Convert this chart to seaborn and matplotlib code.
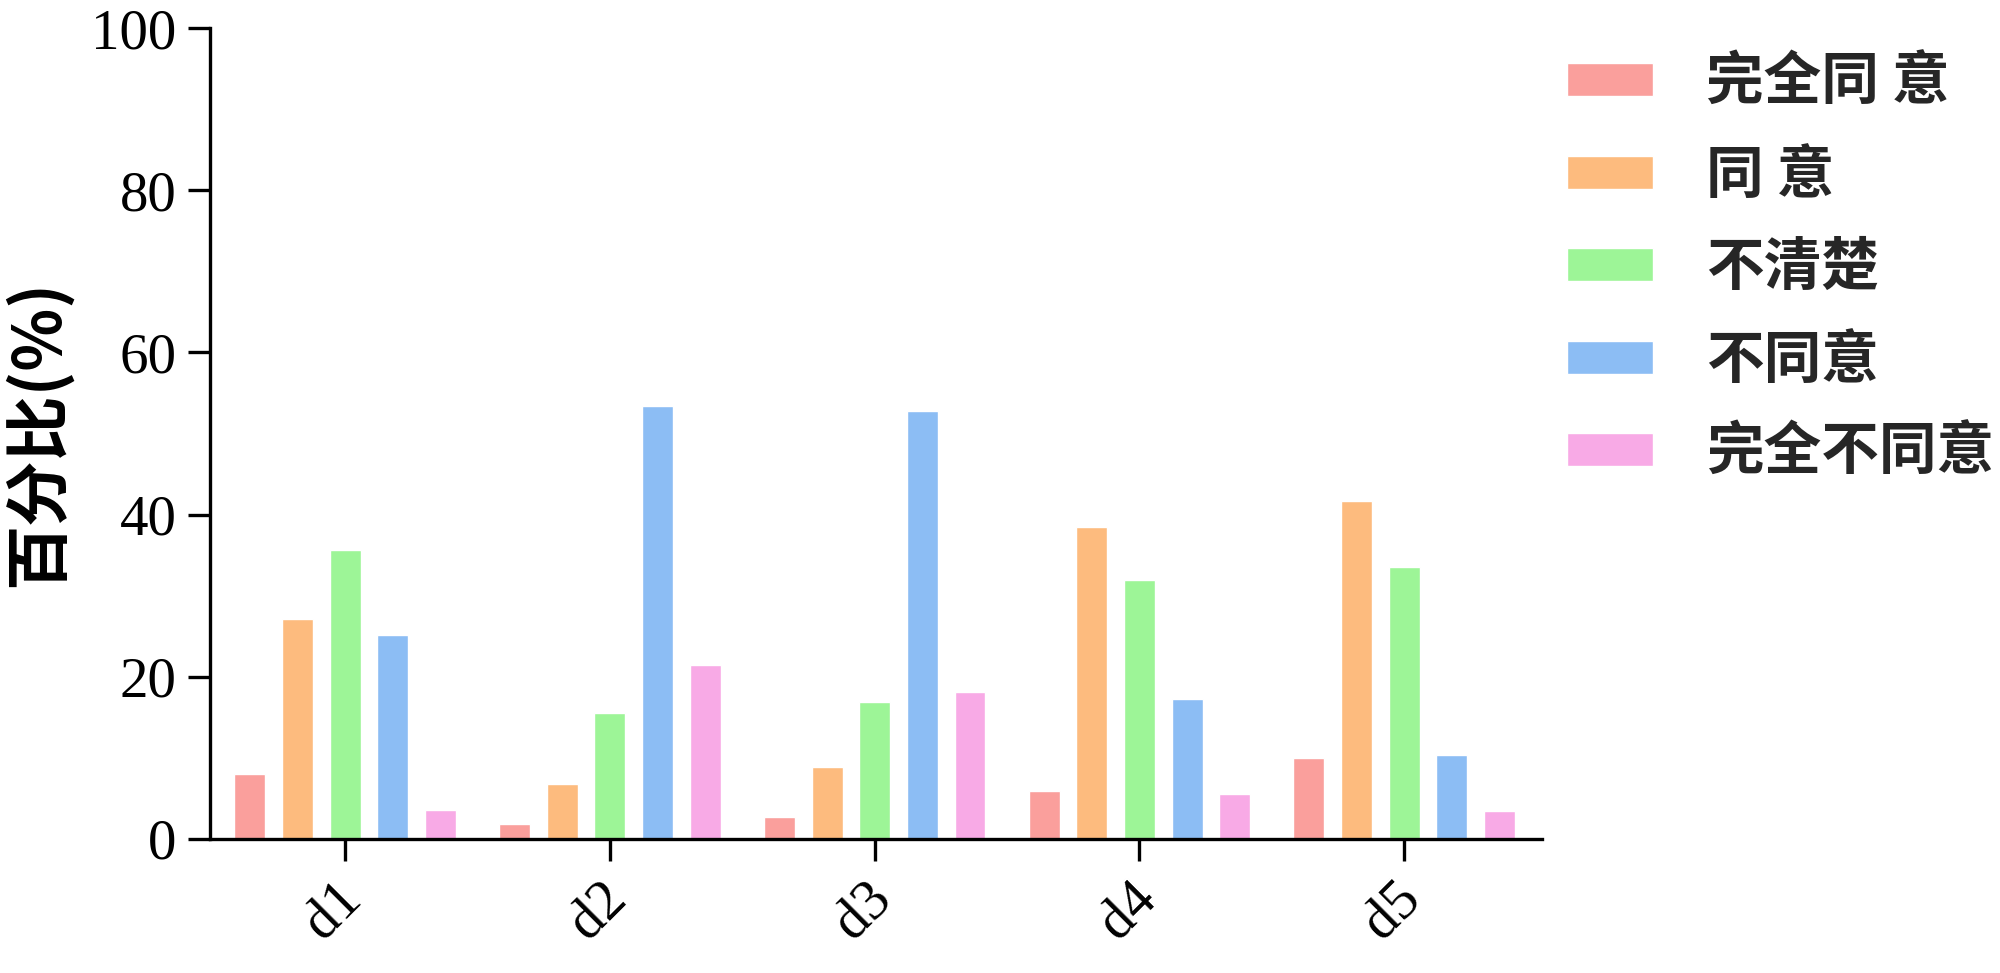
import seaborn as sns
import pandas as pd
import numpy as np
import matplotlib.pyplot as plt
import matplotlib.transforms as mtrans

items = ['d1', 'd2', 'd3', 'd4', 'd5']
answers = ['完全同 意', '同 意', '不清楚', '不同意', '完全不同意']
colors = ['#FA9F9C', '#FDBB7E', '#9DF597', '#8CBDF4', '#F8AAE6']

full_agree = [8.0, 1.8, 2.7, 5.9, 10.0]
agree = [27.1, 6.7, 8.8, 38.4, 41.7]
unsure = [35.6, 15.5, 16.9, 31.9, 33.5]
disagree = [25.1, 53.4, 52.8, 17.3, 10.3]
full_disagree = [3.5, 21.4, 18.1, 5.5, 3.4]

series = [full_agree, agree, unsure, disagree, full_disagree]
rows = []
for ans, vals in zip(answers, series):
    for it, v in zip(items, vals):
        rows.append({'item': it, 'answer': ans, 'pct': v})
df = pd.DataFrame(rows)

sns.set_theme(style='ticks')
plt.rcParams['font.family'] = ['Liberation Serif', 'DejaVu Serif']

fig = plt.figure(figsize=(20, 9.73), dpi=100)
ax = fig.add_axes([0.105, 0.138, 0.666, 0.833])

sns.barplot(data=df, x='item', y='pct', hue='answer', order=items,
            hue_order=answers, palette=colors, saturation=1,
            width=0.9, gap=0.35, ax=ax)

ax.set_xlim(-0.51, 4.52)
ax.set_ylim(0, 100)
ax.set_yticks([0, 20, 40, 60, 80, 100])
sns.despine(ax=ax)
for s in ['left', 'bottom']:
    ax.spines[s].set_linewidth(2.4)
    ax.spines[s].set_color('black')
ax.tick_params(axis='both', direction='out', length=16, width=2.4,
               color='black', labelcolor='black')
ax.tick_params(axis='y', labelsize=41, pad=8)
ax.tick_params(axis='x', labelsize=41, pad=8)
for lab in ax.get_xticklabels():
    lab.set_rotation(45)
    lab.set_ha('center')
    lab.set_transform(lab.get_transform() +
                      mtrans.ScaledTranslation(-12 / 100, 0, fig.dpi_scale_trans))

ax.set_xlabel('')
ax.set_ylabel('百分比(%)', fontsize=47, family=['Noto Sans CJK SC', 'DejaVu Sans'],
              fontweight='bold', color='black')
ax.yaxis.set_label_coords(-0.104, 0.5)

handles, labels = ax.get_legend_handles_labels()
ax.legend_.remove()
leg = fig.legend(handles, labels, loc='upper left',
                 bbox_to_anchor=(1567 / 2000, 1 - 54 / 973),
                 frameon=False, borderpad=0, borderaxespad=0,
                 handlelength=1.49, handleheight=0.5, handletextpad=0.93,
                 labelspacing=0.6,
                 prop={'family': ['Noto Sans CJK SC', 'DejaVu Sans'],
                       'size': 41.5, 'weight': 'bold'})

fig.savefig('out.png', dpi=100, facecolor='white')
